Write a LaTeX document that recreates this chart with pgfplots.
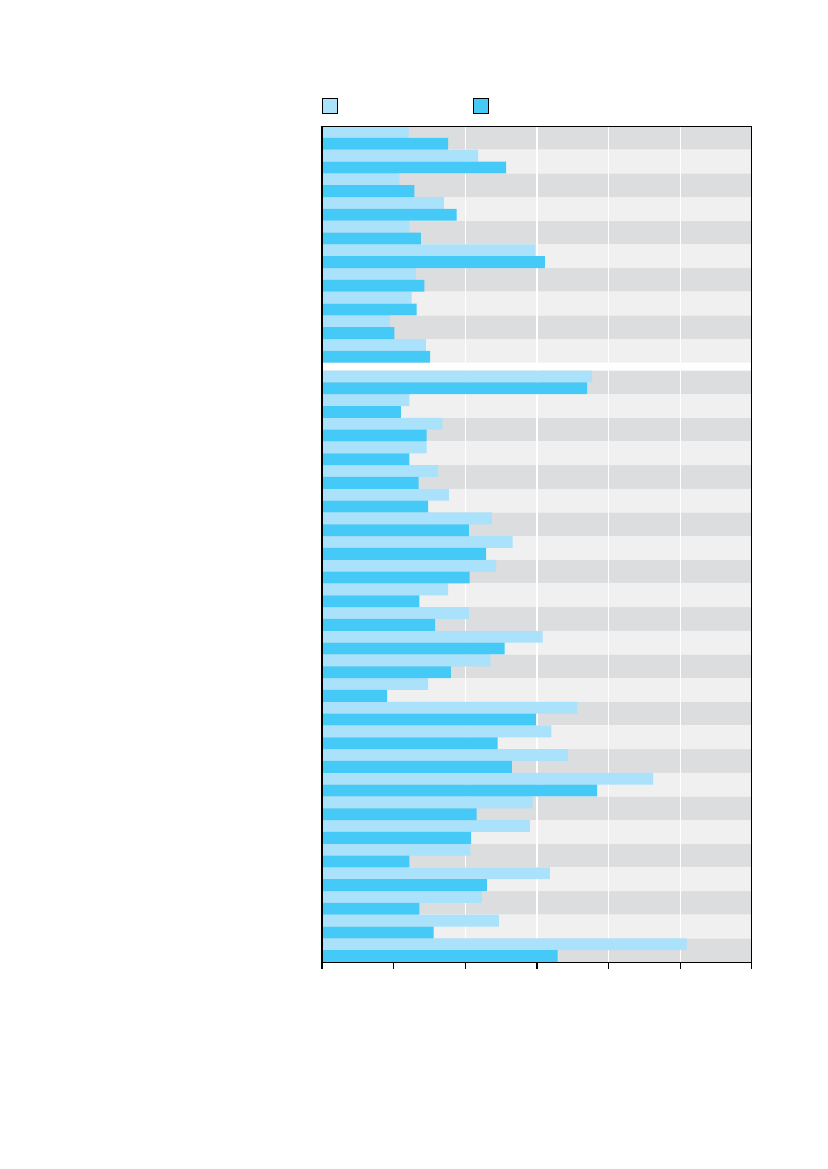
\documentclass[border=0pt]{standalone}
\usepackage{pgfplots}
\usepackage{pgfplotstable}
\pgfplotsset{compat=1.18}

\definecolor{lightbar}{HTML}{AAE1FB}
\definecolor{darkbar}{HTML}{45C9F6}
\definecolor{bandgray}{HTML}{DCDDDF}
\definecolor{bandlight}{HTML}{F0F0F0}

% top of each row (in row units), light and dark bar values
\pgfplotstableread{
top   light dark
0     1.21  1.76
1     2.18  2.57
2     1.08  1.29
3     1.70  1.88
4     1.22  1.38
5     2.98  3.11
6     1.31  1.43
7     1.25  1.32
8     0.95  1.01
9     1.45  1.51
10.33 3.77  3.70
11.33 1.22  1.10
12.33 1.68  1.46
13.33 1.46  1.22
14.33 1.62  1.35
15.33 1.77  1.48
16.33 2.37  2.05
17.33 2.66  2.29
18.33 2.43  2.06
19.33 1.76  1.36
20.33 2.05  1.58
21.33 3.08  2.55
22.33 2.35  1.80
23.33 1.48  0.91
24.33 3.56  2.99
25.33 3.20  2.45
26.33 3.43  2.65
27.33 4.62  3.84
28.33 2.94  2.16
29.33 2.90  2.08
30.33 2.07  1.22
31.33 3.18  2.30
32.33 2.23  1.36
33.33 2.47  1.56
34.33 5.09  3.29
}\rows

\begin{document}
\begin{tikzpicture}
\path[use as bounding box] (0,0) rectangle (595.44pt,841.68pt);
\begin{axis}[
    at={(231.8pt,149.0pt)}, anchor=south west,
    scale only axis, width=309.6pt, height=601.9pt,
    xmin=0, xmax=6, ymin=0, ymax=35.33,
    y dir=reverse,
    axis on top,
    axis line style={black, line width=0.8pt},
    xtick={0,1,2,3,4,5,6}, xticklabels={},
    xtick pos=bottom, tick align=outside,
    major tick length=5pt,
    xtick style={black, line width=0.8pt},
    ytick=\empty,
    legend columns=2,
    legend style={at={(0,1)}, anchor=south west, yshift=8.8pt,
        draw=none, fill=none, inner sep=0pt, outer sep=0pt,
        nodes={inner sep=0pt, outer sep=0pt},
        /tikz/every even column/.style={column sep=0pt}},
]
    \addlegendimage{legend image code/.code={\filldraw[fill=lightbar,draw=black,line width=0.7pt] (0pt,-5.4pt) rectangle (10.8pt,5.4pt);}}
    \addlegendentry{\hspace*{97.2pt}}
    \addlegendimage{legend image code/.code={\filldraw[fill=darkbar,draw=black,line width=0.7pt] (0pt,-5.4pt) rectangle (10.8pt,5.4pt);}}
    \addlegendentry{}

    % background bands
    \addplot[xbar, bar shift=0pt, bar width=1, fill=bandgray, draw=none, forget plot] coordinates {
        (6,0.5) (6,2.5) (6,4.5) (6,6.5) (6,8.5)
        (6,10.83) (6,12.83) (6,14.83) (6,16.83) (6,18.83) (6,20.83) (6,22.83)
        (6,24.83) (6,26.83) (6,28.83) (6,30.83) (6,32.83) (6,34.83)
    };
    \addplot[xbar, bar shift=0pt, bar width=1, fill=bandlight, draw=none, forget plot] coordinates {
        (6,1.5) (6,3.5) (6,5.5) (6,7.5) (6,9.5)
        (6,11.83) (6,13.83) (6,15.83) (6,17.83) (6,19.83) (6,21.83) (6,23.83)
        (6,25.83) (6,27.83) (6,29.83) (6,31.83) (6,33.83)
    };

    % white grid lines
    \addplot[white, line width=0.8pt, forget plot] coordinates {(2,0) (2,35.33)};
    \addplot[white, line width=0.8pt, forget plot] coordinates {(3,0) (3,35.33)};
    \addplot[white, line width=0.8pt, forget plot] coordinates {(4,0) (4,35.33)};
    \addplot[white, line width=0.8pt, forget plot] coordinates {(5,0) (5,35.33)};

    % bars
    \addplot[xbar, bar shift=0pt, bar width=0.5, fill=lightbar, draw=none, forget plot]
        table[x=light, y expr=\thisrow{top}+0.25] {\rows};
    \addplot[xbar, bar shift=0pt, bar width=0.5, fill=darkbar, draw=none, forget plot]
        table[x=dark, y expr=\thisrow{top}+0.75] {\rows};
\end{axis}
\end{tikzpicture}
\end{document}
